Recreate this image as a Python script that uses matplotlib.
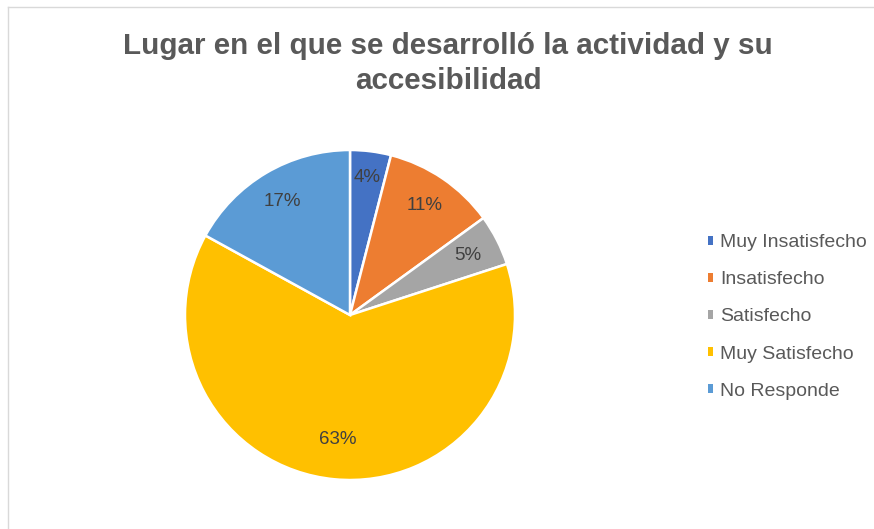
import matplotlib.pyplot as plt
from matplotlib.lines import Line2D
from matplotlib.patches import Patch

categorias = ['Muy Insatisfecho', 'Insatisfecho', 'Satisfecho', 'Muy Satisfecho', 'No Responde']
porcentajes = [4, 11, 5, 63, 17]
colores = ['#4472C4', '#ED7D31', '#A5A5A5', '#FFC000', '#5B9BD5']

W, H = 874, 529
fig = plt.figure(figsize=(W / 100, H / 100), dpi=100)
plt.rcParams['font.family'] = ['Liberation Sans', 'DejaVu Sans']

# pie centred at (350, 315) px with a 165 px radius
cx, cy, r = 350, 315, 165
ax = fig.add_axes([(cx - r) / W, (H - cy - r) / H, 2 * r / W, 2 * r / H])
wedges, texts, autotexts = ax.pie(
    porcentajes, colors=colores, startangle=90, counterclock=False,
    autopct='%1.0f%%', pctdistance=0.8,
    wedgeprops=dict(edgecolor='white', linewidth=1.8),
    textprops=dict(color='#404040', fontsize=13.5))
ax.set_xlim(-1, 1)
ax.set_ylim(-1, 1)
x0, y0 = autotexts[0].get_position()
autotexts[0].set_position((x0 * 1.05, y0 * 1.05))
x3, y3 = autotexts[3].get_position()
autotexts[3].set_position((x3 * 0.95, y3 * 0.95))

fig.text(448 / W, 1 - 46 / H, 'Lugar en el que se desarrolló la actividad y su',
         ha='center', va='center', fontsize=21.3, fontweight='bold', color='#595959')
fig.text(448 / W, 1 - 81 / H, 'accesibilidad',
         ha='center', va='center', fontsize=21.3, fontweight='bold', color='#595959')

handles = [Patch(facecolor=c, edgecolor='none') for c in colores]
fig.legend(handles, categorias, loc='center left', bbox_to_anchor=(690 / W, 1 - 317 / H),
           frameon=False, fontsize=14, labelcolor='#595959',
           handlelength=0.3, handleheight=0.3, handletextpad=0.35, labelspacing=1.03)

# thin chart border on the left and top
fig.add_artist(Line2D([8 / W, 8 / W], [0, 1 - 7 / H], color='#D9D9D9', lw=1))
fig.add_artist(Line2D([8 / W, 1], [1 - 7 / H, 1 - 7 / H], color='#D9D9D9', lw=1))

fig.savefig('out.png', dpi=100, facecolor='white')
